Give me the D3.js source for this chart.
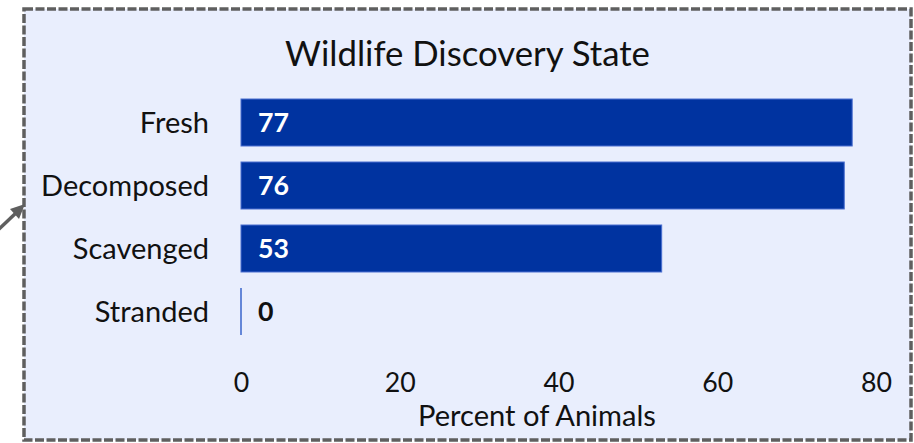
<!DOCTYPE html>
<html><head><meta charset="utf-8">
<script src="https://cdn.jsdelivr.net/npm/d3@7"></script>
<style>html,body{margin:0;padding:0;background:#fff;}svg{display:block;}</style>
</head><body>
<svg id="chart" width="914" height="443"></svg>
<script>
const categories = ["Fresh", "Decomposed", "Scavenged", "Stranded"];
const values = [77, 76, 53, 0];
const tickValues = [0, 20, 40, 60, 80];
const titleText = "Wildlife Discovery State";
const axisTitleText = "Percent of Animals";

const FONT = "Lato, 'Open Sans', sans-serif";
const svg = d3.select("#chart");

// frame
svg.append("rect").attr("x", 24).attr("y", 9).attr("width", 887).attr("height", 431)
  .attr("fill", "#e9eefd").attr("stroke", "#5f5f5f").attr("stroke-width", 3.5)
  .attr("stroke-dasharray", "9 2.5");

// connector arrow
svg.append("line").attr("x1", -2).attr("y1", 230).attr("x2", 17).attr("y2", 212)
  .attr("stroke", "#5f5f5f").attr("stroke-width", 3.5);
svg.append("path").attr("d", "M25,204 L10,209 L19,219 Z").attr("fill", "#5f5f5f");

const x = d3.scaleLinear().domain([0, 80]).range([241, 876]);
const y = d3.scaleBand().domain(categories).range([91, 343]).paddingInner(0.254).paddingOuter(0.127);

function fit(sel, target, start) {
  sel.style("font-size", start + "px");
  let w = 0; sel.each(function(){ w = Math.max(w, this.getComputedTextLength()); });
  return w > 0 ? start * target / w : start;
}

// title
const title = svg.append("text").attr("x", 467.5).attr("y", 66).attr("text-anchor", "middle")
  .attr("fill", "#111").style("font-family", FONT).text(titleText);
title.style("font-size", fit(title, 365, 30) + "px");

// bars
const data = categories.map((c, i) => ({c, v: values[i]}));
svg.selectAll("rect.bar").data(data).join("rect").attr("class", "bar")
  .attr("x", d => d.v === 0 ? x(0) - 0.75 : x(0)).attr("y", d => y(d.c))
  .attr("width", d => Math.max(x(d.v) - x(0), 1.5))
  .attr("height", y.bandwidth())
  .attr("fill", d => d.v === 0 ? "#3a66cc" : "#0033a0")
  .attr("stroke", d => d.v === 0 ? "none" : "#4a6fd0")
  .attr("stroke-width", 1);

// value labels
const vl = svg.selectAll("text.val").data(data).join("text").attr("class", "val")
  .attr("x", x(0) + 17).attr("y", d => y(d.c) + y.bandwidth() / 2).attr("dy", "0.36em")
  .attr("fill", d => d.v > 5 ? "#ffffff" : "#111").style("font-weight", "bold")
  .style("font-family", FONT).text(d => d.v);
const vlSize = fit(vl.filter(d => d.c === "Fresh"), 31, 26);
vl.style("font-size", vlSize + "px");

// category axis labels
const cl = svg.selectAll("text.cat").data(categories).join("text").attr("class", "cat")
  .attr("x", 209).attr("y", d => y(d) + y.bandwidth() / 2).attr("dy", "0.36em")
  .attr("text-anchor", "end").attr("fill", "#111").style("font-family", FONT).text(d => d);
const clSize = fit(cl.filter(d => d === "Decomposed"), 168, 26);
cl.style("font-size", clSize + "px");

// x axis
const ax = svg.append("g").attr("transform", "translate(0,392)")
  .call(d3.axisBottom(x).tickValues(tickValues).tickSize(0).tickPadding(0));
ax.select(".domain").remove();
ax.selectAll("text").attr("dy", 0).attr("y", 0).attr("fill", "#111").style("font-family", FONT);
const tl = ax.selectAll("text").filter(d => d === 80);
const tSize = fit(tl, 31, 26);
ax.selectAll("text").style("font-size", tSize + "px");

// axis title
const at = svg.append("text").attr("x", 537).attr("y", 426).attr("text-anchor", "middle")
  .attr("fill", "#111").style("font-family", FONT).text(axisTitleText);
at.style("font-size", fit(at, 238, 24) + "px");
</script>
</body></html>
